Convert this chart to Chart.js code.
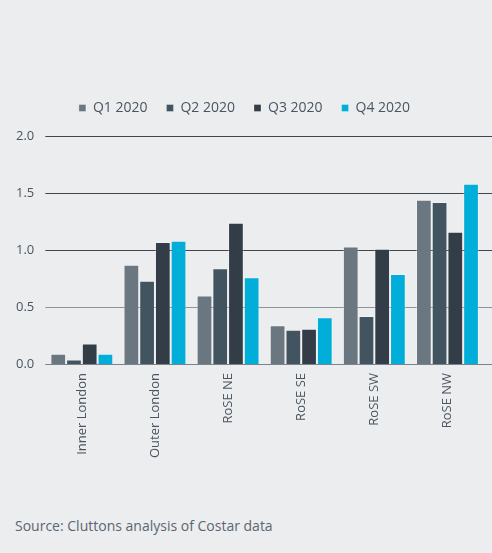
<!DOCTYPE html>
<html><head><meta charset="utf-8">
<script src="https://cdn.jsdelivr.net/npm/chart.js@4/dist/chart.umd.min.js"></script>
<style>
html,body{margin:0;padding:0;background:#ecedef;width:492px;height:553px;overflow:hidden;font-family:"Open Sans",sans-serif;}
#wrap{position:absolute;left:0;top:0;width:492px;height:477px;}
#src{position:absolute;left:15px;top:516px;font-size:14px;color:#5b6670;font-family:"Open Sans",sans-serif;}
</style></head><body>
<div id="wrap"><canvas id="c"></canvas></div>
<div id="src">Source: Cluttons analysis of Costar data</div>
<script>
const categories = ["Inner London","Outer London","RoSE NE","RoSE SE","RoSE SW","RoSE NW"];
const seriesNames = ["Q1 2020","Q2 2020","Q3 2020","Q4 2020"];
const q1 = [0.09, 0.87, 0.60, 0.34, 1.03, 1.44];
const q2 = [0.04, 0.73, 0.84, 0.30, 0.42, 1.42];
const q3 = [0.18, 1.07, 1.24, 0.31, 1.01, 1.16];
const q4 = [0.09, 1.08, 0.76, 0.41, 0.79, 1.58];
const yTicks = [0, 0.5, 1.0, 1.5, 2.0];
const colors = ["#6b7780","#435461","#323d47","#00aed9"];
const values = [q1,q2,q3,q4];

const gridPlugin = {
  id:'extGrid',
  beforeDatasetsDraw(chart){
    const ctx = chart.ctx, y = chart.scales.y, a = chart.chartArea;
    ctx.save();
    yTicks.forEach(v=>{
      const py = Math.round(y.getPixelForValue(v))+0.5;
      ctx.strokeStyle = v===0 ? '#78838b' : (v===0.5 ? '#8c949b' : '#3d4751');
      ctx.lineWidth = 1.2;
      ctx.beginPath(); ctx.moveTo(a.left, py); ctx.lineTo(chart.width, py); ctx.stroke();
    });
    ctx.restore();
  }
};
const legendGap = {
  id:'legendGap',
  beforeInit(chart){
    const orig = chart.legend.fit;
    chart.legend.fit = function(){ orig.call(this); this.height += 11; };
  }
};

new Chart(document.getElementById('c'), {
  type:'bar',
  data:{
    labels:categories,
    datasets: seriesNames.map((n,i)=>({label:n,data:values[i],backgroundColor:colors[i],borderColor:'rgba(255,255,255,0.3)',borderWidth:1,barPercentage:1.0,categoryPercentage:0.86}))
  },
  options:{
    responsive:true, maintainAspectRatio:false, animation:false,
    layout:{padding:{left:5,right:8,top:82,bottom:10}},
    plugins:{
      tooltip:{enabled:false},
      legend:{position:'top',labels:{boxWidth:7,boxHeight:7,padding:19,color:'#4a5560',font:{family:'"Open Sans", sans-serif',size:14}}}
    },
    scales:{
      x:{grid:{display:false,drawTicks:false},border:{display:false},
         ticks:{color:'#4a5560',maxRotation:90,minRotation:90,padding:9,font:{family:'"Open Sans", sans-serif',size:13}}},
      y:{min:0,max:2,grid:{display:false,drawTicks:false},border:{display:false},
         afterBuildTicks(s){s.ticks = yTicks.map(v=>({value:v}));},
         ticks:{color:'#4a5560',padding:11,callback:v=>Number(v).toFixed(1),font:{family:'"Open Sans", sans-serif',size:13}}}
    }
  },
  plugins:[gridPlugin, legendGap]
});
</script>
</body></html>
